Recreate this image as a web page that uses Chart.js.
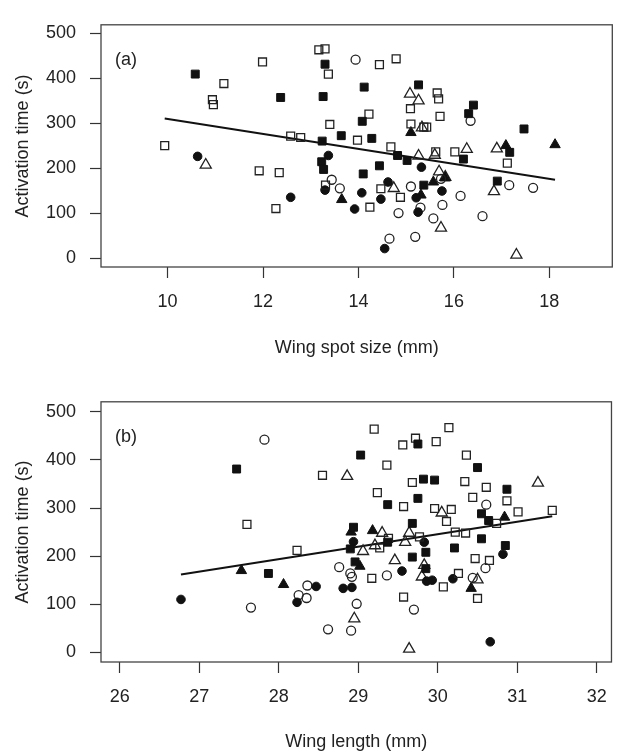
<!DOCTYPE html>
<html>
<head>
<meta charset="utf-8">
<script src="https://cdn.jsdelivr.net/npm/chart.js@4.4.1/dist/chart.umd.min.js"></script>
<style>
  html, body { margin: 0; padding: 0; background: #fff; overflow: hidden; }
  .panel { position: absolute; left: 0; width: 620px; height: 376px; }
  #panelA { top: 0; }
  #panelB { top: 377px; }
</style>
</head>
<body>
<div class="panel" id="panelA"><canvas id="chartA"></canvas></div>
<div class="panel" id="panelB"><canvas id="chartB"></canvas></div>
<script>
// Ticks
const timeTicks = [0, 100, 200, 300, 400, 500];
const spotTicks = [10, 12, 14, 16, 18];
const lengthTicks = [26, 27, 28, 29, 30, 31, 32];

// Panel (a): wing spot size (mm) vs activation time (s)
const spotFilledSquares = [[10.58,409],[12.37,357],[13.30,431],[13.26,359],[13.24,260],[13.64,272],[14.12,380],[15.26,385],[16.41,340],[16.31,321],[14.08,304],[14.28,266],[17.47,287],[14.82,228],[15.02,217],[16.20,220],[17.17,235],[14.44,205],[14.10,187],[15.37,162],[16.91,171],[13.23,214],[13.27,197]];
const spotOpenSquares = [[9.94,250],[11.18,388],[10.94,352],[10.96,341],[11.99,436],[13.17,463],[13.30,465],[13.37,409],[13.40,297],[12.58,271],[12.79,268],[14.44,430],[14.79,443],[15.65,367],[15.68,354],[15.09,332],[14.22,320],[15.71,315],[15.10,298],[15.37,291],[15.43,291],[13.98,262],[14.68,247],[15.62,236],[16.02,236],[17.12,211],[14.47,154],[14.88,135],[14.24,113],[11.92,194],[12.34,190],[12.27,110],[13.31,162]];
const spotFilledCircles = [[10.63,226],[13.37,228],[12.58,135],[13.30,151],[15.32,202],[14.62,169],[14.07,145],[14.47,131],[15.21,134],[15.75,149],[13.92,109],[15.25,102],[14.55,21]];
const spotOpenCircles = [[13.94,441],[16.35,305],[15.73,176],[17.16,162],[17.66,156],[13.61,155],[15.10,159],[16.14,138],[15.30,112],[14.84,100],[15.76,118],[15.57,88],[16.60,93],[14.65,43],[15.19,47],[13.44,174]];
const spotFilledTriangles = [[15.10,279],[17.09,250],[18.12,252],[15.82,178],[15.57,169],[13.65,130],[15.31,140]];
const spotOpenTriangles = [[15.08,365],[15.26,350],[15.33,290],[15.26,227],[15.60,229],[16.27,242],[16.90,243],[15.69,192],[15.82,180],[14.74,155],[16.84,148],[15.73,67],[17.31,7],[10.80,207]];
const spotFit = [[9.94,310],[18.12,174]];

// Panel (b): wing length (mm) vs activation time (s)
const lengthFilledSquares = [[27.47,381],[29.75,433],[29.03,410],[30.50,384],[29.82,360],[29.96,358],[30.87,339],[29.75,320],[29.37,307],[30.55,288],[30.64,274],[29.68,268],[28.94,260],[30.55,236],[28.90,215],[29.37,229],[30.85,222],[30.21,217],[29.85,208],[29.68,198],[28.96,188],[29.85,174],[27.87,164]];
const lengthOpenSquares = [[27.60,266],[28.55,368],[29.20,464],[30.14,467],[29.56,431],[29.72,445],[29.98,438],[30.36,410],[29.36,389],[29.68,353],[30.34,355],[30.61,343],[29.24,332],[30.44,322],[30.87,315],[29.57,303],[29.96,299],[30.17,297],[30.11,272],[31.01,292],[31.44,295],[30.74,268],[29.38,237],[29.77,240],[30.22,250],[30.35,248],[29.27,217],[30.47,195],[30.65,191],[29.17,154],[30.26,164],[30.07,136],[30.50,112],[29.57,115],[28.23,212]];
const lengthFilledCircles = [[28.94,230],[29.83,229],[30.82,204],[29.55,169],[29.86,148],[29.93,150],[30.19,153],[28.81,133],[28.92,135],[30.66,22],[26.77,110],[28.47,137],[28.23,104]];
const lengthOpenCircles = [[27.82,442],[30.61,307],[30.60,175],[28.76,177],[28.90,164],[28.92,157],[29.36,160],[30.44,155],[28.98,101],[29.70,89],[28.91,45],[27.65,93],[28.36,139],[28.25,119],[28.35,113],[28.62,48]];
const lengthFilledTriangles = [[30.84,281],[28.91,250],[29.18,253],[29.02,179],[30.42,133],[27.53,170],[28.06,141]];
const lengthOpenTriangles = [[28.86,366],[31.26,352],[30.05,290],[29.30,248],[29.64,248],[29.06,210],[29.21,222],[29.59,229],[29.46,191],[29.83,181],[29.80,157],[30.50,151],[28.95,70],[29.64,7]];
const lengthFit = [[26.77,162],[31.44,283]];

const FONT = "'Liberation Sans', Arial, Helvetica, sans-serif";
const INK = '#222';

function pts(arr) {
    return arr.map(p => ({x: p[0], y: p[1]}));
}

function markerSets(fs, os, fc, oc, ft, ot, fit) {
    return [
        {data: pts(fs), pointStyle: 'rect', pointRadius: 5.6, backgroundColor: '#111', borderColor: '#111', borderWidth: 1},
        {data: pts(os), pointStyle: 'rect', pointRadius: 5.6, backgroundColor: 'rgba(0,0,0,0)', borderColor: INK, borderWidth: 1.3},
        {data: pts(fc), pointStyle: 'circle', pointRadius: 4.3, backgroundColor: '#111', borderColor: '#111', borderWidth: 1},
        {data: pts(oc), pointStyle: 'circle', pointRadius: 4.5, backgroundColor: 'rgba(0,0,0,0)', borderColor: INK, borderWidth: 1.3},
        {data: pts(ft), pointStyle: 'triangle', pointRadius: 6, backgroundColor: '#111', borderColor: '#111', borderWidth: 1},
        {data: pts(ot), pointStyle: 'triangle', pointRadius: 6.4, backgroundColor: 'rgba(0,0,0,0)', borderColor: INK, borderWidth: 1.3},
        {data: pts(fit), showLine: true, pointRadius: 0, borderColor: '#111', borderWidth: 2}
    ];
}

// marco completo + etiqueta del panel
const framePlugin = {
    id: 'frame',
    afterDraw(chart) {
        const {ctx, chartArea: a} = chart;
        ctx.save();
        ctx.strokeStyle = '#444';
        ctx.lineWidth = 1.3;
        ctx.strokeRect(a.left, a.top, a.right - a.left, a.bottom - a.top);
        ctx.fillStyle = INK;
        ctx.font = '18px ' + FONT;
        ctx.textBaseline = 'middle';
        ctx.fillText(chart.options.panelLabel, a.left + 14, a.top + 35);
        ctx.restore();
    }
};

function makePanel(id, label, datasets, xMin, xMax, xTicks, xTitle, yMax, padTop, xHeight, titleBottom) {
    new Chart(document.getElementById(id), {
        type: 'scatter',
        data: {datasets: datasets},
        plugins: [framePlugin],
        options: {
            panelLabel: label,
            responsive: true,
            maintainAspectRatio: false,
            animation: false,
            layout: {padding: {top: padTop, right: 2.5, left: 0, bottom: 0}},
            plugins: {legend: {display: false}, tooltip: {enabled: false}},
            scales: {
                x: {
                    type: 'linear', min: xMin, max: xMax,
                    afterBuildTicks: s => { s.ticks = xTicks.map(v => ({value: v})); },
                    afterFit: s => { s.height = xHeight; },
                    grid: {drawOnChartArea: false, drawTicks: true, tickLength: 11, color: '#333', tickWidth: 1.2},
                    border: {display: false},
                    ticks: {color: INK, padding: 13, maxRotation: 0, font: {family: FONT, size: 18}, callback: v => String(v)},
                    title: {display: true, text: xTitle, color: INK, font: {family: FONT, size: 18}, padding: {top: 0, bottom: titleBottom}}
                },
                y: {
                    type: 'linear', min: -20, max: yMax,
                    afterBuildTicks: s => { s.ticks = timeTicks.map(v => ({value: v})); },
                    afterFit: s => { s.width = 101; },
                    grid: {drawOnChartArea: false, drawTicks: true, tickLength: 11, color: '#333', tickWidth: 1.2},
                    border: {display: false},
                    ticks: {color: INK, padding: 14, font: {family: FONT, size: 18}, callback: v => String(v)},
                    title: {display: true, text: 'Activation time (s)', color: INK, font: {family: FONT, size: 18}, padding: {top: 12, bottom: 0}}
                }
            }
        }
    });
}

makePanel('chartA', '(a)',
    markerSets(spotFilledSquares, spotOpenSquares, spotFilledCircles, spotOpenCircles, spotFilledTriangles, spotOpenTriangles, spotFit),
    8.605, 19.32, spotTicks, 'Wing spot size (mm)', 518.6, 7, 109, 17);

makePanel('chartB', '(b)',
    markerSets(lengthFilledSquares, lengthOpenSquares, lengthFilledCircles, lengthOpenCircles, lengthFilledTriangles, lengthOpenTriangles, lengthFit),
    25.764, 32.185, lengthTicks, 'Wing length (mm)', 520.7, 24, 91, 0);
</script>
</body>
</html>
